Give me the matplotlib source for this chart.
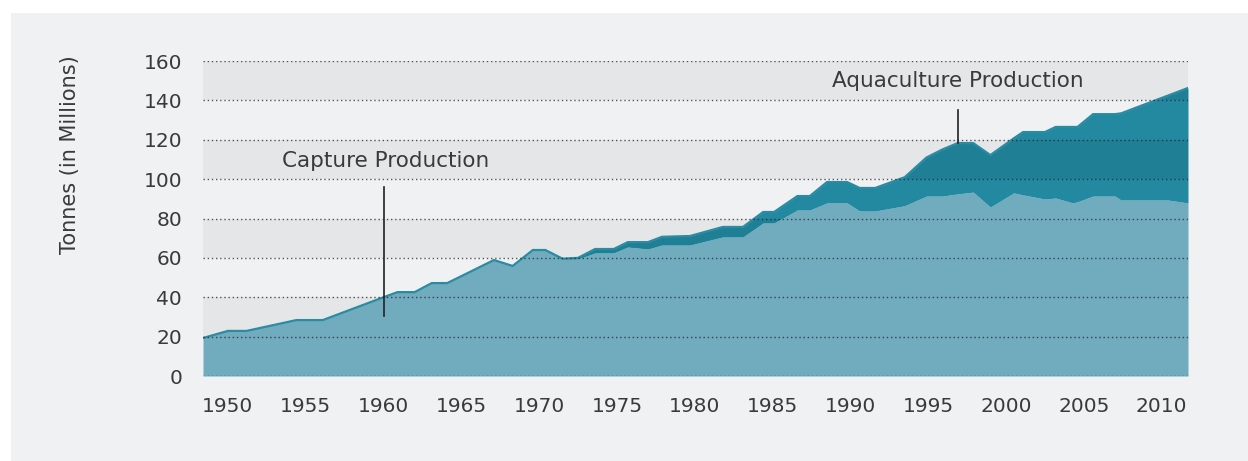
import numpy as np
import matplotlib
matplotlib.use("Agg")
import matplotlib.pyplot as plt
from matplotlib.patches import Rectangle

plt.rcParams['font.family'] = ['DejaVu Sans']

# values (year, capture, capture + aquaculture), million tonnes
years = [1948.4, 1950.0, 1951.2, 1954.4, 1956.1, 1960.0, 1960.9, 1962.0, 1963.1, 1964.1,
         1967.1, 1968.3, 1969.6, 1970.4, 1971.5, 1972.5, 1973.6, 1974.8, 1975.7, 1977.0,
         1977.9, 1979.7, 1981.8, 1983.1, 1984.4, 1985.1, 1986.6, 1987.4, 1988.5, 1989.8,
         1990.6, 1991.6, 1993.5, 1994.9, 1995.9, 1996.9, 1997.9, 1999.0, 2000.5, 2001.1,
         2002.5, 2003.2, 2004.3, 2004.6, 2005.6, 2007.0, 2007.4, 2010.4, 2011.7]
capture = [19.3, 22.9, 22.9, 28.4, 28.4, 40.0, 42.6, 42.6, 47.2, 47.2,
           58.9, 55.9, 64.0, 64.0, 59.4, 59.4, 62.5, 62.5, 65.5, 64.5,
           66.5, 66.5, 70.6, 70.6, 77.7, 77.7, 84.3, 84.3, 87.9, 87.9,
           83.8, 83.8, 86.5, 91.4, 91.4, 92.5, 93.4, 85.8, 93.0, 92.0,
           89.9, 90.4, 87.9, 88.5, 91.4, 91.4, 89.4, 89.4, 87.9]
total = [19.3, 22.9, 22.9, 28.4, 28.4, 40.0, 42.6, 42.6, 47.2, 47.2,
         58.9, 55.9, 64.0, 64.0, 59.6, 60.0, 64.5, 64.5, 68.0, 68.0,
         70.7, 71.1, 75.7, 75.7, 83.3, 83.3, 91.4, 91.4, 98.5, 98.5,
         95.5, 95.5, 101.0, 111.0, 115.0, 118.3, 118.3, 112.2, 120.7, 123.9,
         123.9, 126.5, 126.5, 126.5, 133.0, 133.0, 133.4, 142.4, 146.3]

yticks = [0, 20, 40, 60, 80, 100, 120, 140, 160]
xticks = [1950, 1955, 1960, 1965, 1970, 1975, 1980, 1985, 1990, 1995, 2000, 2005, 2010]

bg = '#f0f1f3'
band = '#e5e6e8'
text_c = '#3a3a3a'

fig = plt.figure(figsize=(12.48, 4.61), dpi=100)
fig.patch.set_facecolor('white')
fig.patches.append(Rectangle((11 / 1248, 0), 1 - 11 / 1248, 1 - 13 / 461,
                             transform=fig.transFigure, facecolor=bg,
                             edgecolor='none', zorder=-10))

ax = fig.add_axes([203 / 1248, 85 / 461, 985 / 1248, 315 / 461])
ax.set_facecolor(bg)

for lo in [20, 60, 100, 140]:
    ax.axhspan(lo, lo + 20, color=band, lw=0, zorder=0)

ax.fill_between(years, 0, capture, color='#70abbe', lw=0, zorder=1)
aqua = ax.fill_between(years, capture, total, color='#2289a1', lw=0, zorder=1)
ax.plot(years, total, color='#2a8ba2', lw=1.6, zorder=2, solid_joinstyle='miter')

# darker tint of the aquaculture area inside the grey bands
for lo in [20, 60, 100, 140]:
    sp = ax.axhspan(lo, lo + 20, color='black', alpha=0.07, lw=0, zorder=1.5)
    sp.set_clip_path(aqua.get_paths()[0], transform=ax.transData)

for y in yticks:
    ax.axhline(y, color='#222222', lw=1.0, ls=(0, (1, 2)), alpha=0.75, zorder=3)

# annotations
ax.plot([1960, 1960], [30.5, 96], color='#222222', lw=1.2, zorder=4)
ax.text(1953.5, 109, 'Capture Production', fontsize=15.5, color=text_c,
        ha='left', va='center', zorder=5)
ax.plot([1996.9, 1996.9], [118.3, 135], color='#222222', lw=1.2, zorder=4)
ax.text(1988.8, 150, 'Aquaculture Production', fontsize=15.5, color=text_c,
        ha='left', va='center', zorder=5)

ax.set_xlim(1948.4, 2011.7)
ax.set_ylim(0, 160)
ax.set_xticks(xticks)
ax.set_yticks(yticks)
ax.tick_params(length=0, labelsize=14.5, labelcolor=text_c)
ax.tick_params(axis='y', pad=15)
ax.tick_params(axis='x', pad=15)
for s in ax.spines.values():
    s.set_visible(False)

fig.text(70 / 1248, 1 - 155 / 461, 'Tonnes (in Millions)', rotation=90,
         fontsize=15, color=text_c, ha='center', va='center')

fig.savefig('out.png', dpi=100)
